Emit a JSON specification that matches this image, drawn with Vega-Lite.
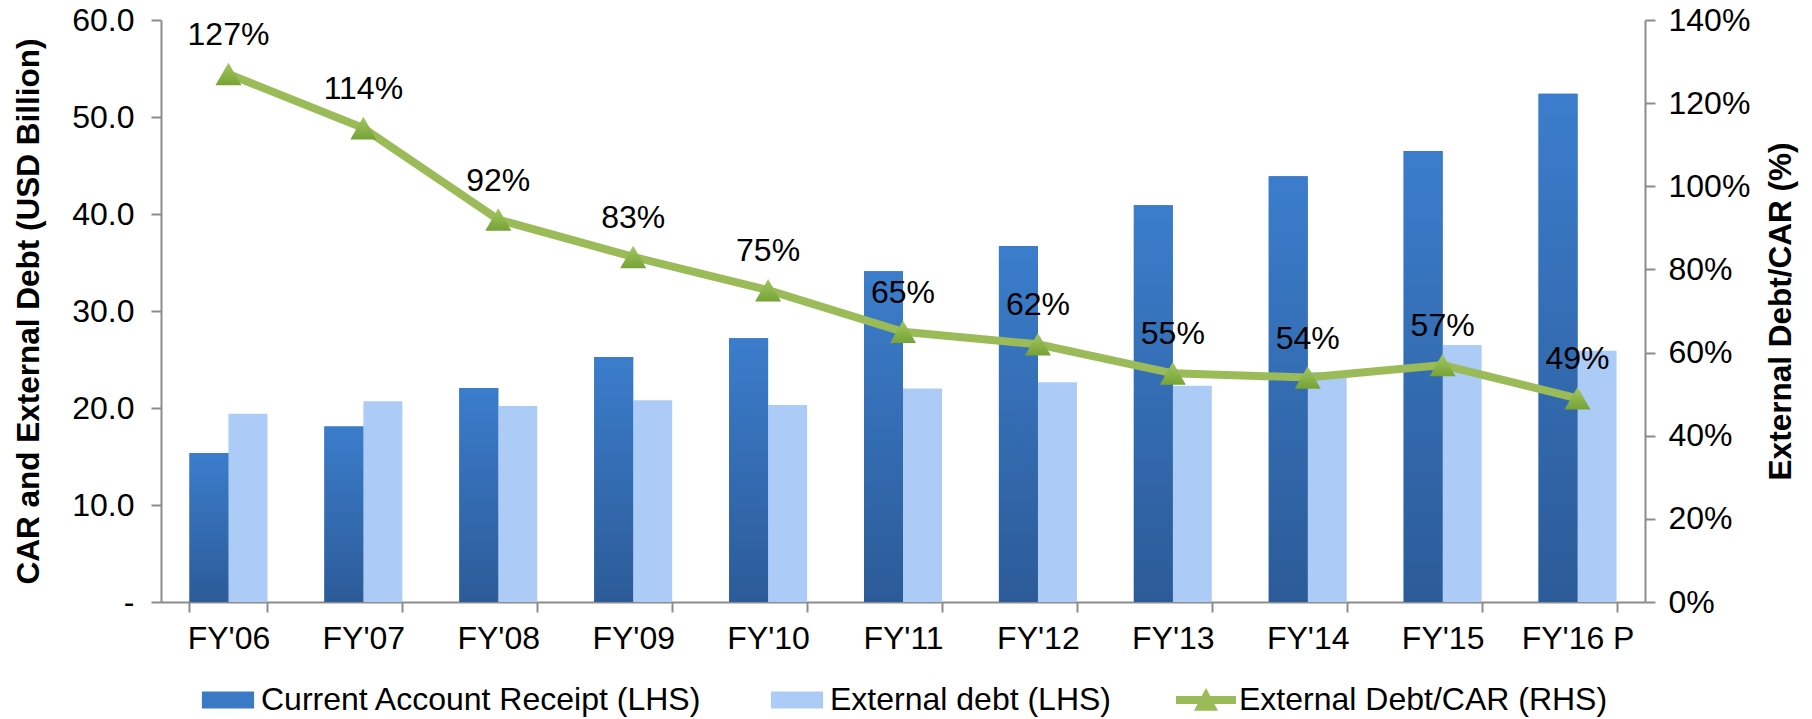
{
  "$schema": "https://vega.github.io/schema/vega-lite/v6.json",
  "width": 1484,
  "height": 582,
  "autosize": {"type": "none"},
  "padding": {"left": 161, "top": 20, "right": 167, "bottom": 117},
  "background": "white",
  "config": {
    "font": "Liberation Sans",
    "view": {"stroke": null},
    "axis": {
      "labelFont": "Liberation Sans",
      "labelFontSize": 32,
      "labelColor": "#000000",
      "titleFont": "Liberation Sans",
      "titleFontSize": 31.5,
      "titleFontWeight": "bold",
      "titleColor": "#000000",
      "domainColor": "#8C8C8C",
      "domainWidth": 2,
      "tickColor": "#8C8C8C",
      "tickWidth": 2,
      "grid": false
    }
  },
  "datasets": {
    "bars": [
      {"year": "FY'06", "series": "Current Account Receipt (LHS)", "value": 15.35},
      {"year": "FY'06", "series": "External debt (LHS)", "value": 19.4},
      {"year": "FY'07", "series": "Current Account Receipt (LHS)", "value": 18.1},
      {"year": "FY'07", "series": "External debt (LHS)", "value": 20.7},
      {"year": "FY'08", "series": "Current Account Receipt (LHS)", "value": 22.05},
      {"year": "FY'08", "series": "External debt (LHS)", "value": 20.2},
      {"year": "FY'09", "series": "Current Account Receipt (LHS)", "value": 25.25},
      {"year": "FY'09", "series": "External debt (LHS)", "value": 20.8},
      {"year": "FY'10", "series": "Current Account Receipt (LHS)", "value": 27.2},
      {"year": "FY'10", "series": "External debt (LHS)", "value": 20.3},
      {"year": "FY'11", "series": "Current Account Receipt (LHS)", "value": 34.1},
      {"year": "FY'11", "series": "External debt (LHS)", "value": 22.0},
      {"year": "FY'12", "series": "Current Account Receipt (LHS)", "value": 36.7},
      {"year": "FY'12", "series": "External debt (LHS)", "value": 22.65},
      {"year": "FY'13", "series": "Current Account Receipt (LHS)", "value": 40.9},
      {"year": "FY'13", "series": "External debt (LHS)", "value": 22.3},
      {"year": "FY'14", "series": "Current Account Receipt (LHS)", "value": 43.9},
      {"year": "FY'14", "series": "External debt (LHS)", "value": 23.7},
      {"year": "FY'15", "series": "Current Account Receipt (LHS)", "value": 46.5},
      {"year": "FY'15", "series": "External debt (LHS)", "value": 26.5},
      {"year": "FY'16 P", "series": "Current Account Receipt (LHS)", "value": 52.4},
      {"year": "FY'16 P", "series": "External debt (LHS)", "value": 25.9}
    ],
    "ratio": [
      {"year": "FY'06", "ratio": 1.27},
      {"year": "FY'07", "ratio": 1.14},
      {"year": "FY'08", "ratio": 0.92},
      {"year": "FY'09", "ratio": 0.83},
      {"year": "FY'10", "ratio": 0.75},
      {"year": "FY'11", "ratio": 0.65},
      {"year": "FY'12", "ratio": 0.62},
      {"year": "FY'13", "ratio": 0.55},
      {"year": "FY'14", "ratio": 0.54},
      {"year": "FY'15", "ratio": 0.57},
      {"year": "FY'16 P", "ratio": 0.49}
    ]
  },
  "layer": [
    {
      "data": {"name": "bars"},
      "encoding": {
        "x": {
          "field": "year",
          "type": "nominal",
          "sort": null,
          "scale": {"paddingInner": 0.422, "paddingOuter": 0.211},
          "axis": {
            "title": null,
            "labelAngle": 0,
            "tickBand": "extent",
            "tickSize": 10,
            "labelPadding": 11
          }
        },
        "xOffset": {
          "field": "series",
          "type": "nominal",
          "scale": {
            "domain": ["Current Account Receipt (LHS)", "External debt (LHS)"],
            "paddingInner": 0,
            "paddingOuter": 0
          }
        },
        "y": {
          "field": "value",
          "type": "quantitative",
          "scale": {"domain": [0, 60], "nice": false},
          "axis": {
            "title": "CAR and External Debt (USD Billion)",
            "values": [0, 10, 20, 30, 40, 50, 60],
            "labelExpr": "datum.value == 0 ? '-\u00a0\u00a0\u00a0' : format(datum.value, '.1f')",
            "tickSize": 10,
            "labelPadding": 17,
            "titlePadding": 26
          }
        }
      },
      "layer": [
        {
          "mark": {"type": "bar"},
          "encoding": {
            "color": {
              "field": "series",
              "type": "nominal",
              "scale": {
                "domain": ["Current Account Receipt (LHS)", "External debt (LHS)", "External Debt/CAR (RHS)"],
                "range": ["#3A7AC6", "#ADCBF7", "#9BBB59"]
              },
              "legend": {
                "title": null,
                "orient": "none",
                "legendX": 37,
                "legendY": 650,
                "direction": "horizontal",
                "columns": 3,
                "symbolSize": 3600,
                "labelFontSize": 32,
                "labelFont": "Liberation Sans",
                "labelColor": "#000000",
                "labelOffset": 3,
                "labelLimit": 800,
                "columnPadding": 64,
                "padding": 0,
                "symbolStrokeWidth": 0,
                "encode": {
                  "symbols": {
                    "update": {
                      "shape": {"signal": "datum.value === 'External Debt/CAR (RHS)' ? 'M-1,-0.13H1V0.13H-1Z M-0.4,0.36L0,-0.4L0.4,0.36Z' : 'M-0.87,-0.28H0.87V0.28H-0.87Z'"},
                      "fill": {"scale": "color", "field": "value"},
                      "opacity": {"value": 1},
                      "strokeWidth": {"value": 0}
                    }
                  }
                }
              }
            }
          }
        },
        {
          "transform": [{"filter": "datum.series == 'Current Account Receipt (LHS)'"}],
          "mark": {
            "type": "bar",
            "color": {
              "gradient": "linear",
              "x1": 0, "y1": 0, "x2": 0, "y2": 1,
              "stops": [
                {"offset": 0, "color": "#3B7DCC"},
                {"offset": 1, "color": "#2C5B98"}
              ]
            }
          }
        }
      ]
    },
    {
      "data": {"name": "ratio"},
      "encoding": {
        "x": {"field": "year", "type": "nominal", "sort": null},
        "y": {
          "field": "ratio",
          "type": "quantitative",
          "scale": {"domain": [0, 1.4], "nice": false},
          "axis": {
            "title": "External Debt/CAR (%)",
            "orient": "right",
            "values": [0, 0.2, 0.4, 0.6, 0.8, 1.0, 1.2, 1.4],
            "format": ".0%",
            "tickSize": 10,
            "labelPadding": 13,
            "titleAngle": 270,
            "titleBaseline": "top",
            "titlePadding": 16
          }
        }
      },
      "layer": [
        {
          "mark": {"type": "line", "strokeWidth": 8},
          "encoding": {"color": {"datum": "External Debt/CAR (RHS)"}}
        },
        {
          "mark": {
            "type": "point",
            "shape": "triangle-up",
            "size": 680,
            "filled": true,
            "opacity": 1,
            "fill": {
              "gradient": "linear",
              "x1": 0, "y1": 0, "x2": 0, "y2": 1,
              "stops": [
                {"offset": 0, "color": "#A3C862"},
                {"offset": 1, "color": "#76A236"}
              ]
            }
          },
          "encoding": {}
        },
        {
          "mark": {"type": "text", "dy": -39, "fontSize": 32, "font": "Liberation Sans", "color": "#000000"},
          "encoding": {"text": {"field": "ratio", "type": "quantitative", "format": ".0%"}}
        }
      ]
    }
  ],
  "resolve": {"scale": {"y": "independent"}}
}
